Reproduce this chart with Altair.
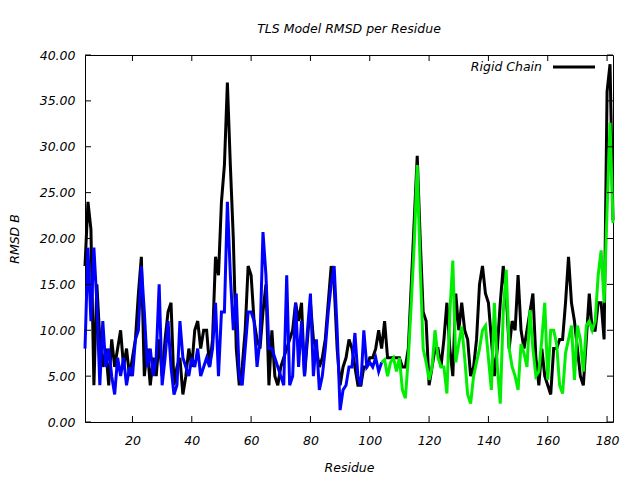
import altair as alt
import pandas as pd

# ---- data ----
black_start = 4
black_vals = [17, 24, 21, 4, 15, 9, 6, 8, 4, 9, 6, 8, 10, 6, 8, 5, 7, 9, 14, 18,
              5, 8, 4, 7, 5, 9, 5, 9, 12, 13, 4, 6, 7, 3, 5, 8, 6, 10, 11, 8,
              10, 10, 6, 9, 18, 16, 24, 28, 37, 28, 20, 8, 4, 6, 10, 17, 16, 11, 9, 8,
              12, 15, 4, 10, 5, 4, 6, 7, 8, 9, 10, 13, 11, 13, 5, 9, 13, 9, 8, 6,
              7, 9, 13, 17, 15, 8, 4, 6, 7, 9, 8, 6, 4, 4, 6, 6, 7, 7, 8, 10,
              8, 11, 7, 7, 7, 7, 7, 6, 6, 8, 15, 22, 29, 20, 12, 11, 4, 6, 8, 8,
              6, 9, 13, 8, 5, 14, 10, 13, 10, 9, 5, 6, 9, 15, 17, 14, 13, 9, 5, 8,
              13, 17, 14, 8, 11, 10, 16, 10, 8, 10, 12, 14, 7, 4, 8, 5, 4, 3, 8, 8,
              9, 9, 13, 18, 13, 11, 8, 5, 4, 9, 14, 10, 10, 13, 13, 9, 36, 39, 22]

blue_start = 4
blue_vals = [8, 19, 11, 19, 13, 4, 11, 6, 8, 5, 3, 7, 5, 7, 4, 6, 5, 9, 10, 17,
             12, 6, 8, 5, 7, 15, 4, 7, 11, 6, 3, 4, 11, 7, 6, 5, 7, 6, 8, 5,
             6, 7, 6, 8, 13, 5, 12, 12, 24, 16, 10, 14, 5, 4, 8, 12, 12, 11, 6, 9,
             20.7, 16, 8, 8, 7, 6, 5, 4, 16, 4, 5, 13, 6, 11, 5, 10, 14, 5, 9, 3.5,
             5, 8, 12, 15, 17, 10, 1.3, 3.5, 4, 6, 6, 9.7, 5, 4, 10, 6, 6.5, 6, 7, 5.5,
             6.5]

green_start = 104
green_vals = [6.5, 6.8, 5, 6.5, 7, 5.5, 7, 3.5, 2.6, 7, 13, 19.5, 28, 17, 8, 6.5, 4.6, 6, 10, 7,
              6, 6, 3.1, 12, 17.6, 6.5, 8.5, 10.4, 7, 3, 2, 5, 6.5, 8, 10, 10.5, 7, 3.5, 13, 6,
              2, 12, 16.6, 8, 6, 5, 3.5, 8.5, 7.5, 6, 12.2, 8, 5, 5.5, 9, 13, 4.6, 10, 10, 8.5,
              4, 3.1, 7.5, 9, 10.5, 4.6, 10.5, 9, 5.5, 10.5, 11, 10, 11, 16, 18.7, 13, 23, 32.6, 21.7]

x_ticks = [20, 40, 60, 80, 100, 120, 140, 160, 180]
y_ticks = [0, 5, 10, 15, 20, 25, 30, 35, 40]
legend_label = "Rigid Chain"

W, H = 528, 367
FONT = "DejaVu Sans"
FS = 12.5


def series_df(start, vals):
    return pd.DataFrame({"x": [start + i for i in range(len(vals))], "y": vals})


xscale = alt.Scale(domain=[4, 182], nice=False, zero=False)
yscale = alt.Scale(domain=[0, 40], nice=False, zero=False)

common = dict(ticks=False, domain=False, grid=False,
              labelFont=FONT, labelFontSize=FS, labelFontStyle="italic", labelColor="black",
              titleFont=FONT, titleFontSize=FS, titleFontStyle="italic", titleFontWeight="normal",
              titleColor="black")
xaxis = alt.Axis(values=x_ticks, title="Residue", labelPadding=12, titlePadding=15, **common)
yaxis = alt.Axis(values=y_ticks, format=".2f", title="RMSD B", labelPadding=10,
                 titlePadding=18, **common)

X = alt.X("x:Q", scale=xscale, axis=xaxis)
Y = alt.Y("y:Q", scale=yscale, axis=yaxis)


def line_layer(df, color):
    return alt.Chart(df).mark_line(color=color, strokeWidth=3, strokeJoin="miter").encode(x=X, y=Y)


black = line_layer(series_df(black_start, black_vals), "#000000")
blue = line_layer(series_df(blue_start, blue_vals), "#0000ff")
green = line_layer(series_df(green_start, green_vals), "#00ee00")

xt = pd.DataFrame({"x": x_ticks})
yt = pd.DataFrame({"y": y_ticks})
TL = 6
xtick_bot = alt.Chart(xt).mark_rule(color="black", strokeWidth=1).encode(
    x=X, y=alt.value(H), y2=alt.value(H - TL))
xtick_top = alt.Chart(xt).mark_rule(color="black", strokeWidth=1).encode(
    x=X, y=alt.value(0), y2=alt.value(TL))
ytick_left = alt.Chart(yt).mark_rule(color="black", strokeWidth=1).encode(
    y=Y, x=alt.value(0), x2=alt.value(TL))
ytick_right = alt.Chart(yt).mark_rule(color="black", strokeWidth=1).encode(
    y=Y, x=alt.value(W), x2=alt.value(W - TL))

leg_df = pd.DataFrame({"label": [legend_label]})
leg_text = alt.Chart(leg_df).mark_text(align="right", baseline="middle", font=FONT,
                                       fontSize=FS, fontStyle="italic", color="black").encode(
    text="label:N", x=alt.value(457), y=alt.value(12))
leg_line = alt.Chart(leg_df).mark_rule(color="black", strokeWidth=3).encode(
    x=alt.value(468), x2=alt.value(510), y=alt.value(12))

chart = alt.layer(
    black, blue, green, xtick_bot, xtick_top, ytick_left, ytick_right, leg_text, leg_line
).properties(
    width=W, height=H,
    background="white",
    title=alt.TitleParams("TLS Model RMSD per Residue", font=FONT, fontSize=FS,
                          fontStyle="italic", fontWeight="normal", color="black",
                          anchor="middle", frame="group", offset=14),
    autosize=alt.AutoSizeParams(type="none"),
    padding={"left": 77, "top": 47, "right": 19, "bottom": 55},
).configure_view(
    stroke="black", strokeWidth=1
)

chart.save("out.html", embed_options={"renderer": "svg", "actions": False})
